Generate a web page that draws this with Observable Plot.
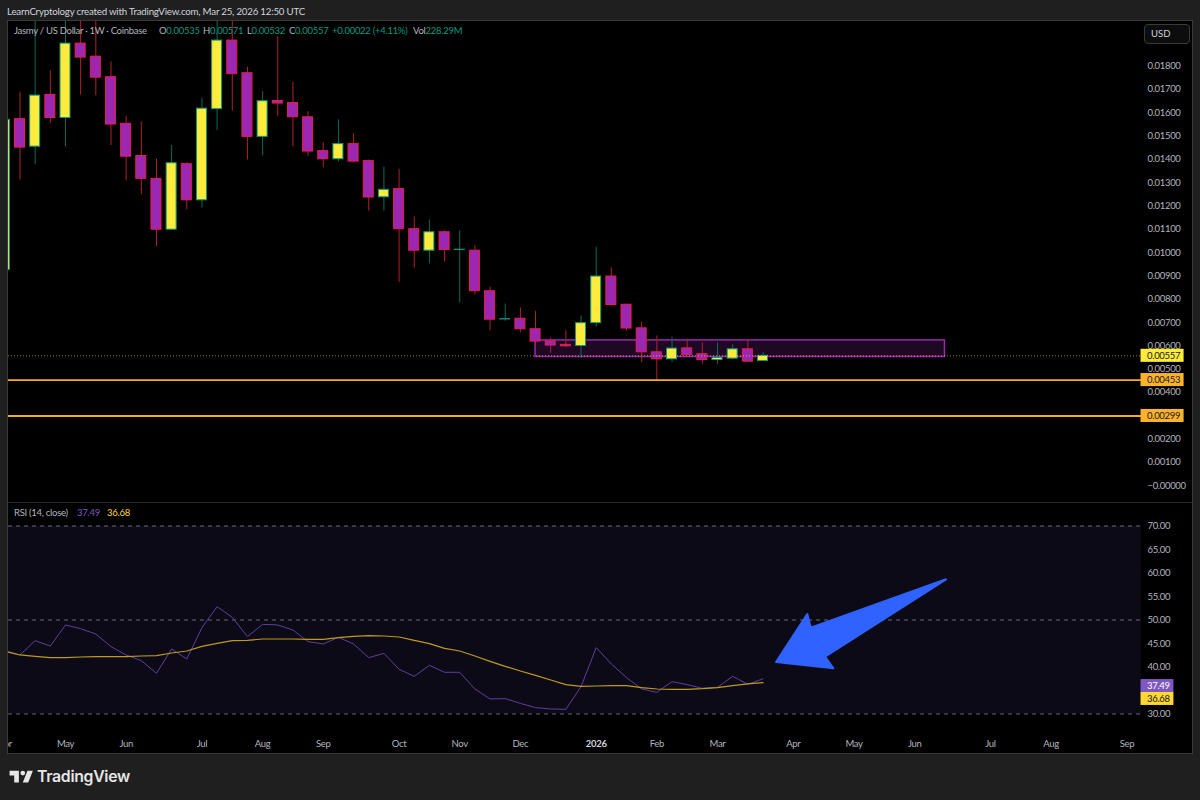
<!DOCTYPE html>
<html><head><meta charset="utf-8">
<script src="https://cdn.jsdelivr.net/npm/d3@7"></script>
<script src="https://cdn.jsdelivr.net/npm/@observablehq/plot@0.6"></script>
<style>
html,body{margin:0;padding:0;background:#1f1f1f;width:1200px;height:800px;overflow:hidden;font-family:Lato,sans-serif;}
#page{position:relative;width:1200px;height:800px;}
#panel{position:absolute;left:7px;top:20px;width:1184px;height:732px;background:#000;border:1px solid #3a3a3a;}
#divider{position:absolute;left:8px;top:502px;width:1184px;height:1px;background:#2a2a2a;}
#pricePlot,#rsiPlot{position:absolute;left:0;}
#pricePlot{top:21px}#rsiPlot{top:503px}
#pricePlot svg,#rsiPlot svg{display:block;clip-path:inset(0 8px 0 8px);letter-spacing:-.33px;}
.t{position:absolute;white-space:nowrap;font-size:9.5px;letter-spacing:-.28px;line-height:12px;color:#b2b5be;}
.teal{color:#089981}
#title{left:7px;top:5px;color:#d1d4dc;font-size:9.7px;letter-spacing:-.2px;}
#usd{position:absolute;left:1144px;top:24px;width:44px;height:18px;border:1px solid #3a3a3a;border-radius:4px;background:#0d0d0d;color:#d1d4dc;font-size:9.5px;line-height:18px;text-indent:6px;}
#brand{position:absolute;left:37px;top:766px;font-size:15.8px;line-height:22px;color:#e6e6e6;font-weight:600;font-family:Inter,Lato,sans-serif;letter-spacing:-.3px;}
#logo{position:absolute;left:7.5px;top:766.4px;}
</style></head><body>
<div id="page">
  <div id="panel"></div><div id="divider"></div>
  <div class="t" id="title">LearnCryptology created with TradingView.com, Mar 25, 2026 12:50 UTC</div>
  <div id="pricePlot"></div>
  <div id="rsiPlot"></div>
  <div class="t" style="left:14px;top:25px">Jasmy / US Dollar · 1W · Coinbase</div>
  <div class="t" style="left:159px;top:25px">O<span class="teal">0.00535</span></div>
  <div class="t" style="left:203px;top:25px">H<span class="teal">0.00571</span></div>
  <div class="t" style="left:247px;top:25px">L<span class="teal">0.00532</span></div>
  <div class="t" style="left:289px;top:25px">C<span class="teal">0.00557</span></div>
  <div class="t teal" style="left:332px;top:25px">+0.00022 (+4.11%)</div>
  <div class="t" style="left:413px;top:25px">Vol<span class="teal">228.29M</span></div>
  <div id="usd">USD</div>
  <div class="t" style="left:14px;top:507px">RSI (14, close)</div>
  <div class="t" style="left:77px;top:507px;color:#7e57c2">37.49</div>
  <div class="t" style="left:107px;top:507px;color:#fdd835">36.68</div>
  <svg id="logo" width="28" height="22" viewBox="0 0 36 28"><path fill="#e6e6e6" d="M14 6H2v6h6v9h6V6Zm12 15h-7l6-15h7l-6 15Zm-7-9a3 3 0 1 0 0-6 3 3 0 0 0 0 6Z"/></svg>
  <div id="brand">TradingView</div>
</div>
<script>
// Weekly candles, first index -1 (week of Apr 7 2025) to 49 (week of Mar 23 2026), in thousandths of a dollar
const opens  = [9.25,15.72,14.54,16.76,15.77,18.96,18.40,17.52,15.52,14.14,13.16,10.98,13.79,12.24,16.15,19.09,17.69,14.96,16.50,16.41,15.80,14.35,14.00,14.65,13.92,12.37,12.72,11.00,10.08,10.87,10.11,10.08,8.34,7.13,7.16,6.71,6.19,6.04,5.99,6.97,8.97,7.76,6.75,5.72,5.42,5.89,5.64,5.39,5.45,5.85,5.35];
const highs  = [15.69,16.88,20.19,17.79,20.19,20.19,20.06,18.18,15.85,15.60,14.00,14.59,13.86,16.62,20.19,20.19,17.95,16.90,19.25,17.31,16.04,14.70,15.69,15.10,13.97,13.66,13.57,11.53,11.40,10.93,10.93,10.28,8.52,7.79,7.62,7.48,6.34,6.65,7.28,10.23,9.34,7.78,7.01,6.42,6.37,6.29,6.12,6.11,6.04,6.24,5.71];
const lows   = [9.25,13.11,13.77,15.53,14.53,16.75,16.72,14.59,13.07,12.48,10.25,10.98,11.83,11.91,15.23,16.06,13.97,14.16,15.83,14.54,14.11,13.64,13.89,13.83,11.77,11.78,8.71,9.33,9.52,9.61,7.84,8.18,6.64,7.05,6.56,6.04,5.68,5.92,5.45,6.80,7.75,6.62,5.28,4.50,5.28,5.56,5.19,5.19,5.39,5.29,5.32];
const closes = [15.69,14.50,16.73,15.77,18.96,18.36,17.50,15.49,14.11,13.16,10.98,13.83,12.24,16.17,19.09,17.65,14.96,16.49,16.39,15.80,14.33,14.00,14.65,13.90,12.36,12.69,11.00,10.08,10.87,10.11,10.12,8.34,7.12,7.14,6.71,6.18,6.01,5.98,6.97,8.97,7.75,6.74,5.72,5.42,5.88,5.61,5.39,5.48,5.85,5.32,5.57];
const rsi    = [43.26,42.56,45.60,44.47,48.94,48.16,47.02,44.33,42.56,41.35,38.66,43.83,41.70,48.37,52.84,50.57,46.46,49.08,48.94,47.87,45.39,44.90,46.31,44.90,41.99,42.91,39.51,38.02,40.36,38.87,38.87,35.32,33.20,33.27,32.27,31.35,31.07,31.00,35.82,44.12,40.64,37.73,35.32,34.61,36.88,36.25,35.47,35.68,38.02,36.32,37.49];
const rsiMA  = [43.41,42.56,42.27,41.99,41.99,42.13,42.20,42.20,42.20,42.34,42.41,42.98,43.41,44.40,45.04,45.60,45.68,45.96,45.96,45.96,45.89,45.89,46.24,46.53,46.67,46.60,46.38,45.68,44.97,43.97,43.41,42.34,41.21,40.14,39.15,38.23,37.24,36.25,35.89,35.96,36.03,36.03,35.61,35.32,35.22,35.25,35.39,35.61,36.03,36.39,36.68];
const priceTicks = [0,1,2,4,5,6,7,8,9,10,11,12,13,14,15,16,17,18];
const rsiTicks = [30,40,45,50,55,60,65,70];
const monthDates = ["2025-04-07","2025-05-05","2025-06-02","2025-07-07","2025-08-04","2025-09-01","2025-10-06","2025-11-03","2025-12-01","2026-02-02","2026-03-02","2026-04-06","2026-05-04","2026-06-01","2026-07-06","2026-08-03","2026-09-07"];
const monthLabels = ["Apr","May","Jun","Jul","Aug","Sep","Oct","Nov","Dec","Feb","Mar","Apr","May","Jun","Jul","Aug","Sep"];
const yearDate = "2026-01-05";
const levels = [2.99,4.53];
const levelLabels = ["0.00299","0.00453"];
const lastPrice = 5.57;
const zone = {i1:34, i2:61, top:6.23, bottom:5.52};
const rsiGuides = [30,50,70];
const rsiTags = [{c:35.95,text:"37.49",fill:"#7e57c2",ink:"#ffffff"},{c:33.2,text:"36.68",fill:"#fdd835",ink:"#131722"}];
const arrow = [{i:61.07,r:58.66},{i:52.15,r:48.36},{i:51.92,r:51.28},{i:49.86,r:41.06},{i:53.64,r:39.72},{i:53.09,r:42.19}];

// time helpers
const t0 = Date.UTC(2025,3,14), WEEK = 7*864e5;
const dateAt = i => new Date(t0 + i*WEEK);
const tagL = 73.93, tagR = 76.77, tagT = 74.33, rsiTagR = 76.1;
const xScale = {type:"utc", domain:[dateAt(0), dateAt(49)], range:[19.5,762.5]};
const candles = opens.map((o,k)=>({i:k-1, o:o/1000, h:highs[k]/1000, l:lows[k]/1000, c:closes[k]/1000, up:closes[k]>=o}));
const series = rsi.map((r,k)=>({i:k-1, r, m:rsiMA[k]}));
const WICK = d => d.up ? "#0a6b5d" : "#b2202e";
const BORDER = d => d.up ? "#089981" : "#e91e4b";
const FILL = d => d.up ? "#ffeb3b" : "#9c27b0";
const base = {width:1200, marginLeft:8, marginRight:59, marginTop:0,
  style:{background:"transparent", fontFamily:"Lato,sans-serif", fontSize:"9.5px", color:"#b2b5be", overflow:"visible"}};

const pricePlot = Plot.plot({...base, height:482, marginBottom:0,
  x:{...xScale, axis:null},
  y:{type:"linear", domain:[0,0.018], range:[464.2,44.5], axis:null},
  marks:[
    Plot.axisY(priceTicks.map(v=>v/1000), {anchor:"right", tickSize:0, tickPadding:6, label:null,
      tickFormat:v=> v===0 ? "\u22120.00000" : v.toFixed(5)}),
    Plot.rect([zone], {x1:d=>dateAt(d.i1), x2:d=>dateAt(d.i2), y1:d=>d.bottom/1000, y2:d=>d.top/1000,
      fill:"#9c27b0", fillOpacity:0.2, stroke:"#9c27b0", strokeWidth:1.5, clip:true}),
    Plot.ruleX(candles, {x:d=>dateAt(d.i), y1:"l", y2:"h", stroke:WICK, strokeWidth:1, clip:true}),
    Plot.rect(candles, {x1:d=>dateAt(d.i-0.33), x2:d=>dateAt(d.i+0.33), y1:"o", y2:"c", fill:FILL, stroke:BORDER, strokeWidth:1, clip:true}),
    Plot.ruleY(levels.map(v=>v/1000), {stroke:"#f5ae21", strokeWidth:1.8}),
    Plot.ruleY([lastPrice/1000], {stroke:"#ffeb3b", strokeDasharray:"1,2", strokeOpacity:0.6, strokeWidth:1}),
    ...levels.map(v=>Plot.rect([v/1000], {x1:()=>dateAt(tagL), x2:()=>dateAt(tagR), y1:d=>d-0.00028, y2:d=>d+0.00028, fill:"#ffb32c"})),
    Plot.rect([lastPrice/1000], {x1:()=>dateAt(tagL), x2:()=>dateAt(tagR), y1:d=>d-0.00028, y2:d=>d+0.00028, fill:"#ffeb3b"}),
    Plot.text(levels.map((v,k)=>({v:v/1000,s:levelLabels[k]})), {x:()=>dateAt(tagT), y:"v", text:"s", textAnchor:"start", fill:"#131722"}),
    Plot.text([{v:lastPrice/1000,s:"0.00557"}], {x:()=>dateAt(tagT), y:"v", text:"s", textAnchor:"start", fill:"#131722"})
  ]});
document.getElementById("pricePlot").append(pricePlot);

const rsiPlot = Plot.plot({...base, height:250, marginBottom:16,
  x:{...xScale, axis:null},
  y:{type:"linear", domain:[30,70], range:[210.5,22.5], axis:null},
  marks:[
    Plot.rect([0], {x1:()=>dateAt(-2), x2:()=>dateAt(74), y1:()=>30, y2:()=>70, fill:"#0d0a17", clip:true}),
    Plot.ruleY(rsiGuides, {stroke:"#787b86", strokeDasharray:"4,4", strokeWidth:1, strokeOpacity:0.85}),
    Plot.axisY(rsiTicks, {anchor:"right", tickSize:0, tickPadding:6, label:null, tickFormat:v=>v.toFixed(2)}),
    Plot.axisX(monthDates.map(d=>new Date(d)), {anchor:"bottom", tickSize:0, tickPadding:3, label:null,
      tickFormat:d=>monthLabels[monthDates.indexOf(d.toISOString().slice(0,10))]}),
    Plot.axisX([new Date(yearDate)], {anchor:"bottom", tickSize:0, tickPadding:3, label:null, fill:"#d1d4dc", fontWeight:700, tickFormat:()=>"2026"}),
    Plot.line(series, {x:d=>dateAt(d.i), y:"r", stroke:"#5e3f9e", strokeWidth:1, clip:true}),
    Plot.line(series, {x:d=>dateAt(d.i), y:"m", stroke:"#bd9a20", strokeWidth:1.2, clip:true}),
    Plot.line(arrow, {x:d=>dateAt(d.i), y:"r", fill:"#2f62ff", stroke:"#2f62ff", strokeWidth:2, strokeLinejoin:"round", curve:"linear-closed"}),
    Plot.rect(rsiTags, {x1:()=>dateAt(tagL), x2:()=>dateAt(rsiTagR), y1:d=>d.c-1.38, y2:d=>d.c+1.38, fill:"fill"}),
    Plot.text(rsiTags, {x:()=>dateAt(tagT), y:"c", text:"text", textAnchor:"start", fill:"ink"})
  ]});
document.getElementById("rsiPlot").append(rsiPlot);
</script>
</body></html>
